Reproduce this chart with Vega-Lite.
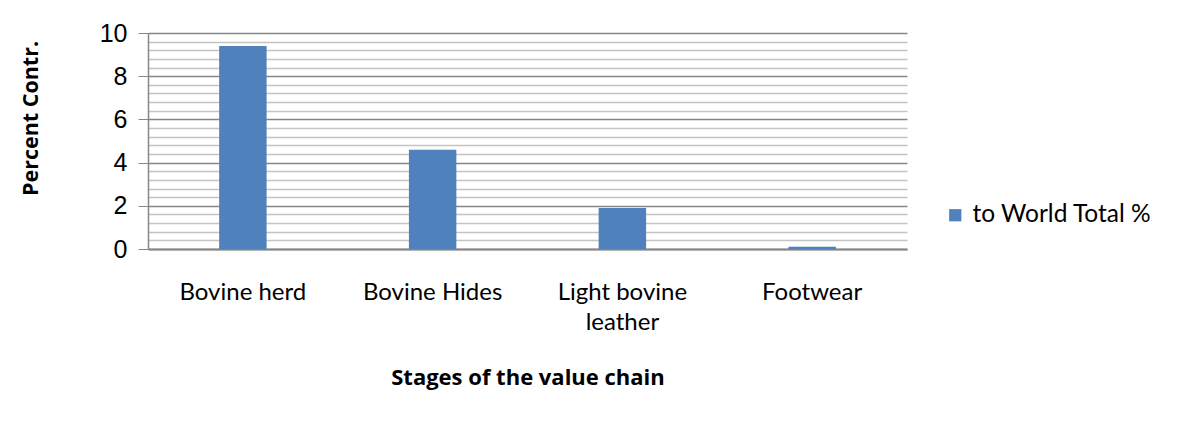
{
  "$schema": "https://vega.github.io/schema/vega-lite/v6.json",
  "width": 759,
  "height": 216,
  "autosize": {"type": "none"},
  "padding": {"left": 148, "top": 33, "right": 270, "bottom": 176},
  "background": "white",
  "config": {"view": {"stroke": null}},
  "data": {
    "values": [
      {"stage": "Bovine herd", "value": 9.4, "series": "to World Total %"},
      {"stage": "Bovine Hides", "value": 4.6, "series": "to World Total %"},
      {"stage": "Light bovine leather", "value": 1.9, "series": "to World Total %"},
      {"stage": "Footwear", "value": 0.1, "series": "to World Total %"}
    ]
  },
  "mark": {"type": "bar"},
  "encoding": {
    "x": {
      "field": "stage",
      "type": "nominal",
      "sort": null,
      "scale": {"paddingInner": 0.75, "paddingOuter": 0.375},
      "axis": {
        "title": "Stages of the value chain",
        "titleFont": "Open Sans",
        "titleFontSize": 22,
        "titleFontWeight": "bold",
        "titleColor": "#000000",
        "titlePadding": 33,
        "labelAngle": 0,
        "labelFont": "Lato",
        "labelFontSize": 24,
        "labelColor": "#000000",
        "labelPadding": 31,
        "labelLineHeight": 30,
        "labelExpr": "datum.label == 'Light bovine leather' ? ['Light bovine', 'leather'] : datum.label",
        "ticks": false,
        "domainColor": "#868686",
        "domainWidth": 2,
        "grid": false
      }
    },
    "y": {
      "field": "value",
      "type": "quantitative",
      "scale": {"domain": [0, 10], "nice": false},
      "axis": {
        "title": "Percent Contr.",
        "titleFont": "Open Sans",
        "titleFontSize": 21.5,
        "titleFontWeight": "bold",
        "titleColor": "#000000",
        "titleX": -106,
        "titleY": 85,
        "values": [0, 0.4, 0.8, 1.2, 1.6, 2, 2.4, 2.8, 3.2, 3.6, 4, 4.4, 4.8, 5.2, 5.6, 6, 6.4, 6.8, 7.2, 7.6, 8, 8.4, 8.8, 9.2, 9.6, 10],
        "labelExpr": "datum.value % 2 === 0 ? format(datum.value, 'd') : ''",
        "labelFont": "Liberation Sans",
        "labelFontSize": 25,
        "labelColor": "#000000",
        "labelPadding": 11,
        "tickSize": 10,
        "tickColor": "#868686",
        "tickOpacity": {"condition": {"test": "datum.value % 2 === 0", "value": 1}, "value": 0},
        "domainColor": "#868686",
        "domainWidth": 1.5,
        "grid": true,
        "gridColor": {"condition": {"test": "datum.value % 2 === 0", "value": "#868686"}, "value": "#c4c4c4"},
        "gridWidth": 1.6
      }
    },
    "color": {
      "field": "series",
      "type": "nominal",
      "scale": {"range": ["#4f81bd"]},
      "legend": {
        "title": null,
        "orient": "none",
        "legendX": 795,
        "legendY": 170,
        "symbolType": "square",
        "symbolSize": 150,
        "symbolStrokeWidth": 0,
        "labelFont": "Lato",
        "labelFontSize": 24.5,
        "labelLimit": 400,
        "labelColor": "#000000",
        "labelOffset": 5
      }
    }
  }
}
